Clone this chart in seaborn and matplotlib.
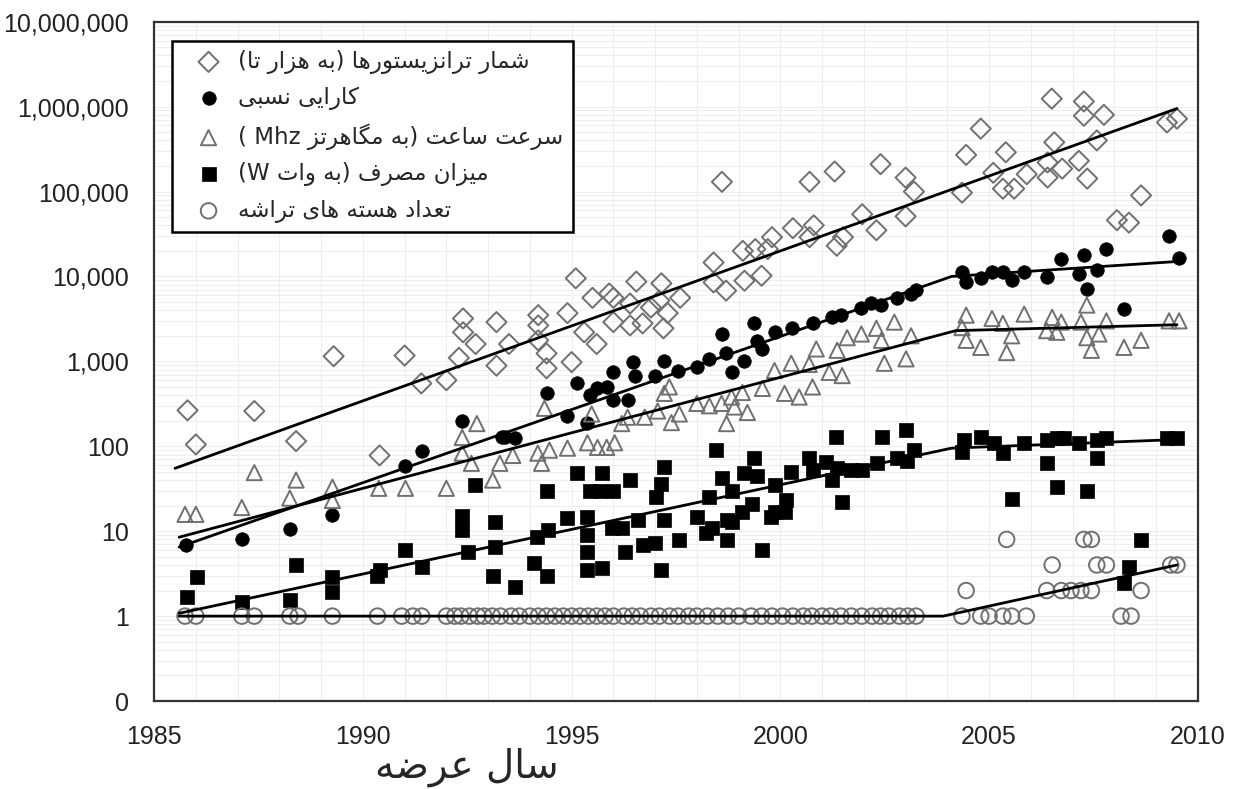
import re
import seaborn as sns
import matplotlib.pyplot as plt
from matplotlib.ticker import FixedLocator, FixedFormatter, MultipleLocator, LogLocator, NullFormatter

sns.set_style("white")
plt.rcParams['font.family'] = ['Liberation Sans', 'DejaVu Sans']

# ---- data ----
trans_year = [1985.8, 1986.0, 1987.4, 1988.4, 1989.3, 1991.0, 1990.4, 1991.4, 1992.0, 1992.4,
              1992.4, 1992.7, 1992.3, 1993.2, 1993.2, 1993.5, 1994.2, 1994.2, 1994.2, 1994.4,
              1994.4, 1994.9, 1995.0, 1995.3, 1995.6, 1995.5, 1996.0, 1996.0, 1996.4, 1996.7,
              1996.4, 1997.2, 1997.3, 1997.1, 1997.6, 1995.1, 1995.9, 1996.55, 1997.15, 1996.9,
              1998.6, 2000.7, 2001.3, 2002.4, 2003.0, 2003.2, 2003.0, 2002.3, 2001.96, 2001.5,
              2001.35, 2000.8, 2000.7, 2000.3, 1999.8, 1999.7, 1999.4, 1999.1, 1999.55, 1999.14,
              1998.4, 1998.4, 1998.7, 2004.8, 2004.45, 2004.35, 2005.4, 2005.1, 2005.33, 2005.6,
              2005.9, 2006.5, 2006.56, 2006.4, 2006.4, 2006.75, 2007.15, 2007.35, 2007.27, 2007.27,
              2007.75, 2007.58, 2009.5, 2009.26, 2008.64, 2008.35, 2008.06]
trans_val = [265, 105, 260, 115, 1150, 1170, 78, 550, 600, 3200,
             2200, 1600, 1100, 2900, 890, 1600, 3500, 2650, 1770, 1240,
             830, 3700, 980, 2200, 1600, 5600, 5600, 2900, 2650, 2800,
             4800, 2450, 3700, 5200, 5600, 9500, 6300, 8700, 8300, 4300,
             130000, 130000, 172000, 210000, 146000, 100000, 51000, 35000, 54000, 29000,
             23000, 40000, 29000, 37000, 29000, 21000, 21000, 20000, 10200, 8900,
             14600, 8500, 6800, 550000, 270000, 97000, 290000, 166000, 108000, 108000,
             160000, 1240000, 380000, 220000, 146000, 186000, 230000, 142000, 1150000, 780000,
             800000, 400000, 720000, 650000, 90000, 43000, 46000]

perf_year = [1985.76, 1987.1, 1988.25, 1989.27, 1991.02, 1991.41, 1992.38, 1994.4, 1995.12, 1994.88,
             1995.43, 1995.6, 1995.98, 1995.84, 1995.98, 1996.34, 1996.46, 1996.51, 1996.99, 1997.22,
             1997.54, 1993.4, 1993.64, 1993.33, 1995.38, 1998.6, 1999.38, 1998.0, 1998.3, 1998.7,
             1998.83, 1999.14, 1999.43, 1999.57, 1999.86, 2000.29, 2000.77, 2001.24, 2001.46, 2001.94,
             2002.18, 2002.42, 2002.8, 2003.13, 2003.25, 2004.35, 2004.45, 2004.8, 2005.07, 2005.33,
             2005.54, 2005.84, 2006.38, 2006.73, 2007.27, 2007.81, 2007.15, 2007.34, 2007.58, 2009.31,
             2009.55, 2008.23]
perf_val = [6.8, 8, 10.5, 15.4, 58, 87, 200, 420, 550, 230,
            400, 480, 740, 500, 350, 350, 980, 680, 680, 1000,
            780, 127, 124, 127, 190, 2100, 2800, 850, 1070, 1270,
            740, 1000, 1760, 1400, 2200, 2500, 2800, 3300, 3500, 4300,
            4900, 4600, 5500, 6200, 7000, 11200, 8500, 9500, 11200, 11200,
            9000, 11200, 9800, 16000, 18000, 21000, 10800, 7200, 11800, 30000,
            16500, 4100]

clock_year = [1985.74, 1986.0, 1987.1, 1987.4, 1988.25, 1988.4, 1989.27, 1989.27, 1990.38, 1991.02,
              1992.73, 1992.38, 1992.38, 1992.6, 1992.0, 1993.11, 1993.28, 1993.59, 1994.19, 1994.28,
              1994.47, 1994.35, 1994.9, 1995.48, 1995.38, 1995.62, 1996.03, 1995.84, 1996.2, 1996.34,
              1996.75, 1997.06, 1997.22, 1997.39, 1997.58, 1997.34, 1998.71, 1999.21, 1998.9, 1998.59,
              1998.3, 1998.0, 1998.83, 1999.09, 1999.57, 2000.1, 2000.45, 2000.77, 1999.86, 2000.26,
              2000.69, 2001.17, 2001.48, 2000.86, 2001.36, 2001.6, 2001.94, 2002.3, 2002.42, 2002.49,
              2003.01, 2002.73, 2003.13, 2004.45, 2004.35, 2004.45, 2004.8, 2005.07, 2005.33, 2005.54,
              2005.42, 2005.84, 2006.51, 2006.62, 2006.38, 2006.73, 2007.2, 2007.34, 2007.34, 2007.63,
              2007.45, 2007.81, 2008.23, 2008.64, 2009.55, 2009.31]
clock_val = [15.8, 15.8, 19, 49, 24.5, 40, 33, 23, 32, 32,
             185, 127, 83, 63, 32, 40, 63, 78, 83, 63,
             90, 280, 95, 240, 110, 97, 110, 97, 185, 220,
             220, 260, 420, 190, 240, 500, 185, 250, 290, 320,
             300, 320, 380, 430, 480, 420, 380, 500, 780, 950,
             920, 740, 680, 1400, 1350, 1900, 2100, 2450, 1770, 950,
             1070, 2900, 2000, 3500, 2500, 1770, 1460, 3200, 2800, 2000,
             1270, 3600, 3300, 2200, 2300, 2900, 2900, 4600, 1900, 2100,
             1350, 3000, 1460, 1770, 3000, 3000]

power_year = [1985.79, 1986.03, 1987.1, 1988.4, 1988.25, 1989.27, 1989.27, 1990.35, 1990.4, 1991.02,
              1991.41, 1992.38, 1992.38, 1993.16, 1992.51, 1993.16, 1993.11, 1993.64, 1994.16, 1994.43,
              1994.11, 1994.4, 1994.88, 1995.36, 1995.36, 1995.36, 1995.36, 1995.72, 1995.96, 1996.2,
              1996.27, 1996.58, 1996.7, 1996.99, 1997.58, 1997.22, 1997.15, 1992.68, 1994.4, 1995.12,
              1995.72, 1995.43, 1995.67, 1995.98, 1996.39, 1997.22, 1997.15, 1997.03, 1998.47, 1999.38,
              1998.61, 1999.43, 1999.14, 1998.85, 1998.3, 1999.86, 2000.26, 2000.77, 2000.69, 2001.1,
              2001.34, 2001.36, 2001.7, 2001.96, 2002.32, 2002.44, 2002.8, 2003.01, 2003.2, 2003.04,
              2001.24, 2001.48, 2000.14, 1999.09, 1999.31, 1999.86, 2000.1, 1998.0, 1998.73, 1998.37,
              1998.23, 1998.71, 1998.83, 1999.55, 1999.78, 2004.35, 2004.8, 2004.4, 2005.12, 2005.33,
              2005.84, 2006.38, 2006.38, 2006.62, 2006.79, 2007.15, 2007.58, 2007.58, 2007.81, 2007.34,
              2006.62, 2005.54, 2009.26, 2009.5, 2008.64, 2008.35, 2008.23]
power_val = [1.7, 2.9, 1.46, 4.0, 1.55, 2.9, 1.9, 3.0, 3.5, 6.0,
             3.8, 15, 10.3, 12.7, 5.7, 6.5, 3.0, 2.2, 8.5, 10.3,
             4.2, 3.0, 14.2, 14.6, 9, 5.7, 3.5, 3.7, 10.8, 10.8,
             5.7, 13.5, 6.8, 7.2, 7.8, 13.5, 3.5, 35, 30, 49,
             49, 30, 30, 30, 40, 57, 36, 25, 90, 72,
             42, 45, 49, 30, 25, 35, 50, 52, 72, 65,
             127, 55, 52, 52, 63, 127, 72, 155, 90, 68,
             40, 22, 23, 16.7, 21, 16.7, 16.7, 14.6, 13.5, 10.8,
             9.5, 7.8, 12.7, 6.0, 14.6, 85, 127, 117, 108, 83,
             110, 117, 63, 124, 124, 110, 117, 72, 124, 30,
             33, 24, 124, 124, 7.8, 3.8, 2.45]

core_year = [1985.74, 1986.0, 1987.1, 1987.4, 1988.25, 1988.45, 1989.27, 1990.35, 1990.93, 1991.2,
             1991.41, 1992.0, 1992.2, 1992.35, 1992.55, 1992.75, 1992.9, 1993.1, 1993.3, 1993.55,
             1993.75, 1994.0, 1994.2, 1994.4, 1994.6, 1994.8, 1995.0, 1995.2, 1995.4, 1995.6,
             1995.8, 1996.0, 1996.25, 1996.45, 1996.65, 1996.9, 1997.1, 1997.35, 1997.55, 1997.8,
             1998.0, 1998.25, 1998.5, 1998.75, 1999.0, 1999.3, 1999.55, 1999.8, 2000.05, 2000.3,
             2000.55, 2000.75, 2001.0, 2001.2, 2001.45, 2001.7, 2001.95, 2002.2, 2002.4, 2002.6,
             2002.85, 2003.05, 2003.25, 2004.35, 2004.8, 2005.0, 2005.33, 2005.54, 2005.89, 2008.16,
             2008.4, 2004.45, 2006.38, 2006.73, 2006.96, 2007.2, 2007.45, 2008.64, 2006.51, 2007.58,
             2007.81, 2009.35, 2009.5, 2005.42, 2007.27, 2007.45]
core_val = [1] * 71 + [2] * 7 + [4] * 5 + [8] * 3

# trend lines
trans_fit_year = [1985.5, 2009.5]
trans_fit_val = [55, 950000]
perf_fit_year = [1985.6, 2004.1, 2009.5]
perf_fit_val = [6.5, 10000, 15000]
clock_fit_year = [1985.6, 2004.2, 2009.5]
clock_fit_val = [8.5, 2300, 2700]
power_fit_year = [1985.6, 2004.1, 2009.5]
power_fit_val = [1.08, 95, 120]
core_fit_year = [1985.6, 2003.9, 2009.5]
core_fit_val = [1, 1, 4]

labels = ["شمار ترانزیستورها (به هزار تا)", "کارایی نسبی", "سرعت ساعت (به مگاهرتز Mhz )",
          "میزان مصرف (به وات W)", "تعداد هسته های تراشه"]
xlabel = "سال عرضه"
yticks = [0.1, 1, 10, 100, 1e3, 1e4, 1e5, 1e6, 1e7]
ytick_labels = ['0', '1', '10', '100', '1,000', '10,000', '100,000', '1,000,000', '10,000,000']

# ---- minimal Persian shaping (matplotlib has no RTL layout) ----
FORMS = {
    'ا': (0xFE8D, 0xFE8E, None, None), 'ب': (0xFE8F, 0xFE90, 0xFE91, 0xFE92),
    'ت': (0xFE95, 0xFE96, 0xFE97, 0xFE98), 'د': (0xFEA9, 0xFEAA, None, None),
    'ر': (0xFEAD, 0xFEAE, None, None), 'ز': (0xFEAF, 0xFEB0, None, None),
    'س': (0xFEB1, 0xFEB2, 0xFEB3, 0xFEB4), 'ش': (0xFEB5, 0xFEB6, 0xFEB7, 0xFEB8),
    'ص': (0xFEB9, 0xFEBA, 0xFEBB, 0xFEBC), 'ض': (0xFEBD, 0xFEBE, 0xFEBF, 0xFEC0),
    'ع': (0xFEC9, 0xFECA, 0xFECB, 0xFECC), 'ف': (0xFED1, 0xFED2, 0xFED3, 0xFED4),
    'ل': (0xFEDD, 0xFEDE, 0xFEDF, 0xFEE0), 'م': (0xFEE1, 0xFEE2, 0xFEE3, 0xFEE4),
    'ن': (0xFEE5, 0xFEE6, 0xFEE7, 0xFEE8), 'ه': (0xFEE9, 0xFEEA, 0xFEEB, 0xFEEC),
    'و': (0xFEED, 0xFEEE, None, None), 'ی': (0xFBFC, 0xFBFD, 0xFBFE, 0xFBFF),
    'ک': (0xFB8E, 0xFB8F, 0xFB90, 0xFB91), 'گ': (0xFB92, 0xFB93, 0xFB94, 0xFB95),
}


def rtl(text):
    out = []
    for i, ch in enumerate(text):
        if ch not in FORMS:
            out.append(ch)
            continue
        prev = text[i - 1] if i > 0 else ''
        nxt = text[i + 1] if i + 1 < len(text) else ''
        iso, fin, ini, med = FORMS[ch]
        jp = prev in FORMS and FORMS[prev][2] is not None
        jn = nxt in FORMS and ini is not None
        if jp and jn:
            g = med
        elif jp:
            g = fin
        elif jn:
            g = ini
        else:
            g = iso
        out.append(chr(g))
    vis = ''.join(out)[::-1].translate(str.maketrans('()', ')('))
    return re.sub(r'[A-Za-z0-9]+', lambda m: m.group(0)[::-1], vis)


fig = plt.figure(figsize=(12.33, 7.89), dpi=100)
ax = fig.add_axes([0.125, 0.1115, 0.8465, 0.861])
ax.set_yscale('log')

gray = '#707070'
sns.scatterplot(x=trans_year, y=trans_val, marker='D', s=105, facecolor='none', edgecolor=gray,
                linewidth=1.4, label=rtl(labels[0]), ax=ax, zorder=2)
sns.scatterplot(x=perf_year, y=perf_val, marker='o', s=95, color='black', edgecolor='black',
                linewidth=0.5, label=rtl(labels[1]), ax=ax, zorder=2)
sns.scatterplot(x=clock_year, y=clock_val, marker='^', s=120, facecolor='none', edgecolor=gray,
                linewidth=1.4, label=rtl(labels[2]), ax=ax, zorder=2)
sns.scatterplot(x=power_year, y=power_val, marker='s', s=105, color='black', edgecolor='black',
                linewidth=0.5, label=rtl(labels[3]), ax=ax, zorder=2)
sns.scatterplot(x=core_year, y=core_val, marker='o', s=125, facecolor='none', edgecolor=gray,
                linewidth=1.4, label=rtl(labels[4]), ax=ax, zorder=2)

for fx, fy in [(trans_fit_year, trans_fit_val), (perf_fit_year, perf_fit_val),
               (clock_fit_year, clock_fit_val), (power_fit_year, power_fit_val),
               (core_fit_year, core_fit_val)]:
    sns.lineplot(x=fx, y=fy, color='black', linewidth=2, sort=False, ax=ax, zorder=3)

ax.set_xlim(1985, 2010)
ax.set_ylim(0.1, 1e7)
ax.xaxis.set_major_locator(MultipleLocator(5))
ax.xaxis.set_minor_locator(MultipleLocator(1))
ax.yaxis.set_major_locator(FixedLocator(yticks))
ax.yaxis.set_major_formatter(FixedFormatter(ytick_labels))
ax.yaxis.set_minor_locator(LogLocator(base=10, subs=range(2, 10), numticks=20))
ax.yaxis.set_minor_formatter(NullFormatter())
ax.tick_params(axis='both', which='major', labelsize=18, direction='out', length=6, width=1.2,
               colors='#222222')
ax.tick_params(axis='x', which='major', pad=11)
ax.tick_params(axis='y', which='major', pad=18, length=0)
ax.tick_params(axis='x', which='minor', length=0)
ax.tick_params(axis='y', which='minor', direction='out', length=3, width=0.8, color='#888888')
ax.grid(True, which='both', color='#eeeeee', linewidth=0.8)
ax.set_axisbelow(True)
for sp in ax.spines.values():
    sp.set_visible(True)
    sp.set_color('#333333')
    sp.set_linewidth(1.6)
ax.set_xlabel('')
ax.set_ylabel('')

leg = ax.legend(loc='upper left', bbox_to_anchor=(0.017, 0.972), borderaxespad=0, frameon=True,
                fancybox=False, framealpha=1, edgecolor='black', borderpad=0.4,
                labelspacing=0.55, handlelength=2.4, handletextpad=0.1,
                prop={'family': ['DejaVu Sans'], 'size': 16.5})
leg.get_frame().set_linewidth(1.8)

fig.text(0.379, 0.003, rtl(xlabel), fontsize=28, ha='center', va='bottom',
         family=['DejaVu Sans'])

fig.savefig('out.png', dpi=100)
